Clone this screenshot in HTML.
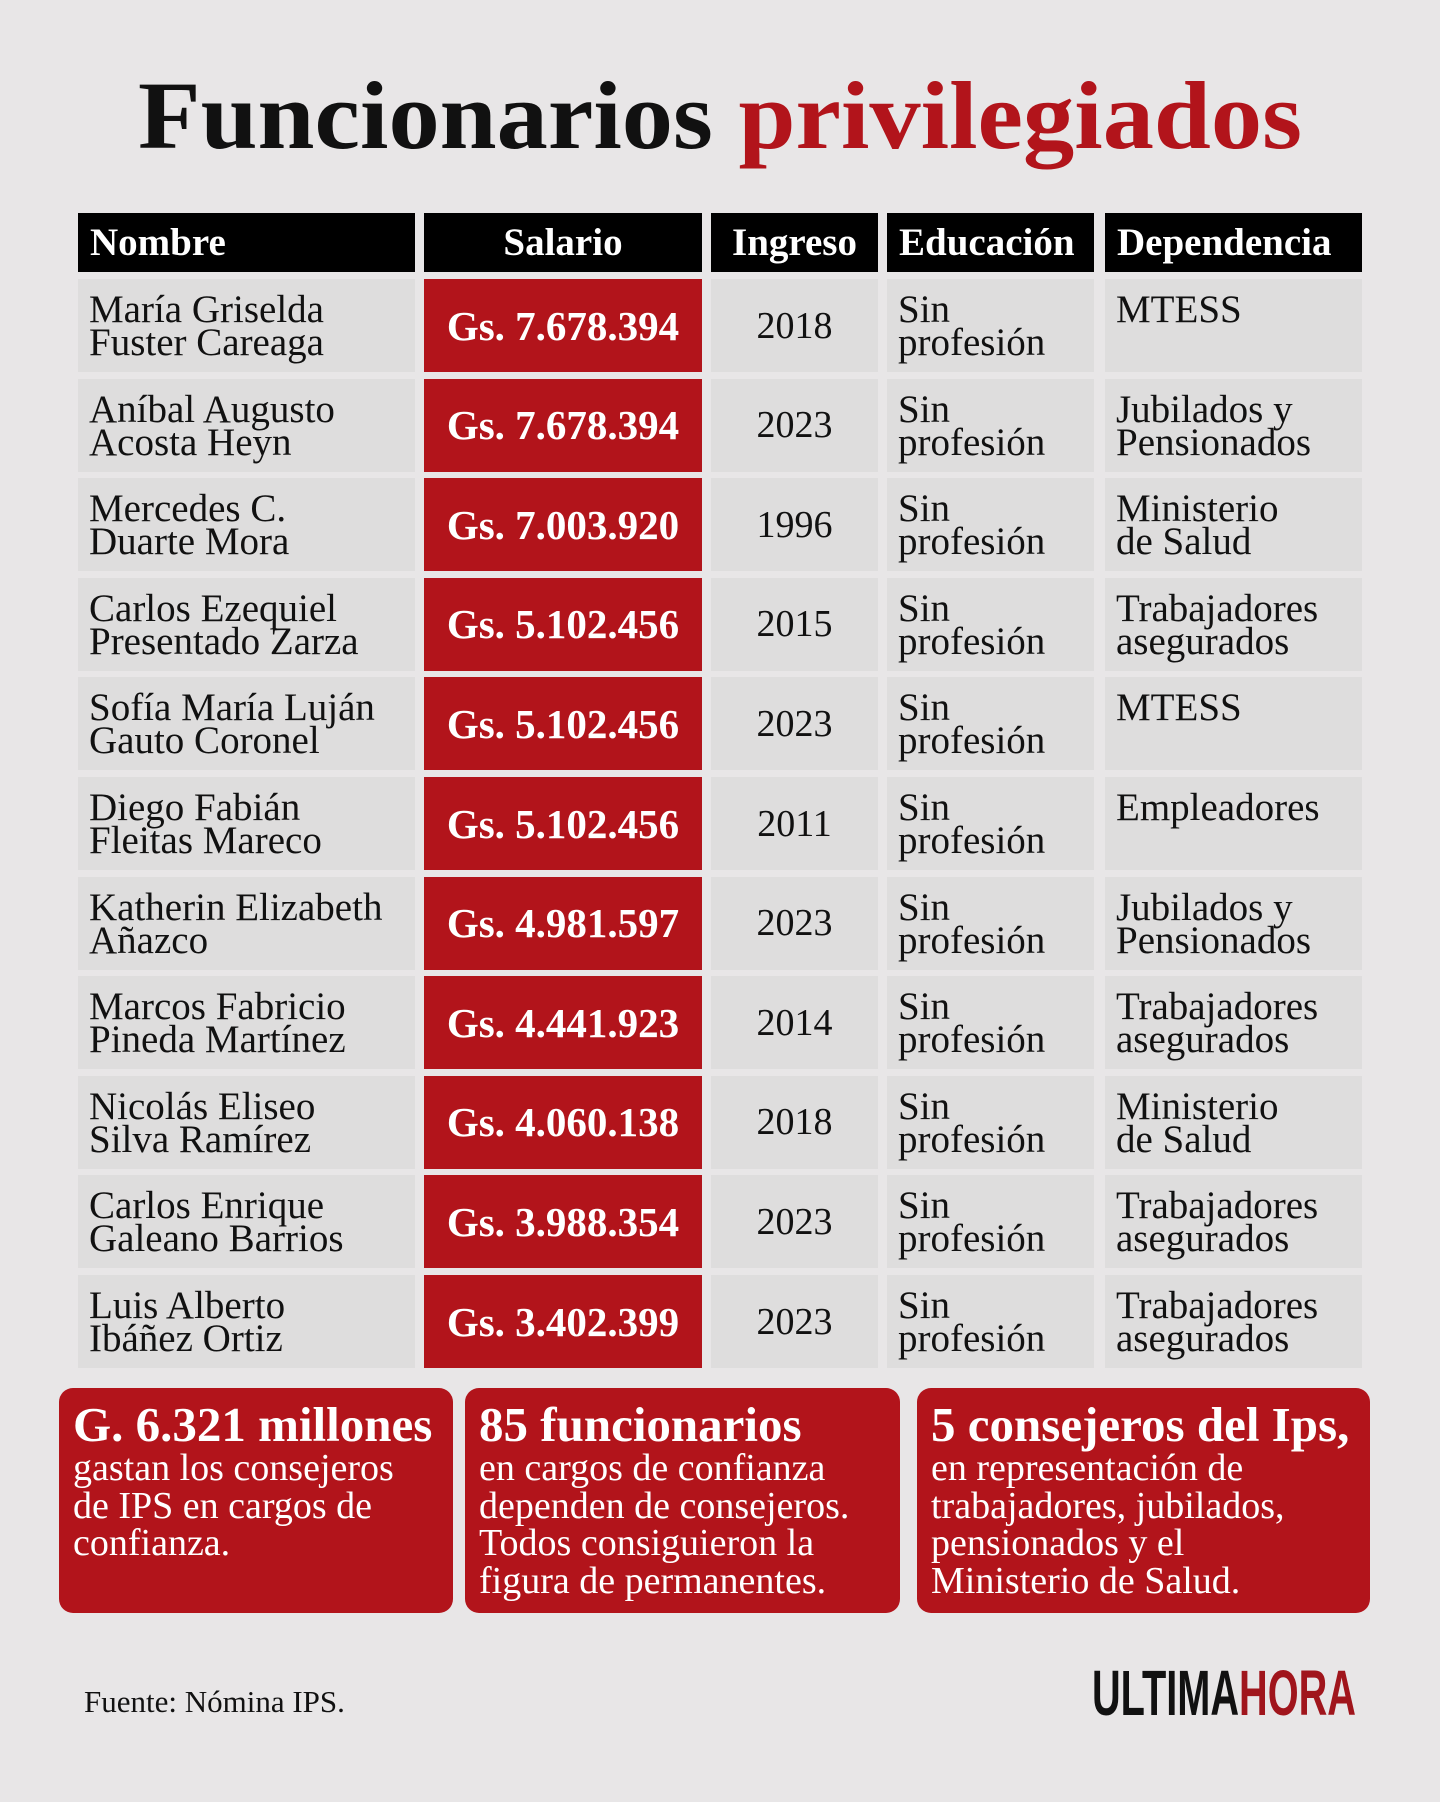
<!DOCTYPE html>
<html><head><meta charset="utf-8"><style>
*{margin:0;padding:0;box-sizing:border-box}
body{width:1440px;height:1802px;background:#e8e6e7;position:relative;overflow:hidden;font-family:"Liberation Serif",serif;color:#111}
.c{position:absolute;background:#dedddd;font-size:39px;line-height:33px;padding:14px 0 0 11px;white-space:nowrap}
.h{position:absolute;background:#000;color:#fff;font-weight:bold;font-size:39px;top:213px;height:59px;line-height:59px;padding-left:12px}
.s{position:absolute;background:#b2141b;color:#fff;font-weight:bold;font-size:41px;display:flex;align-items:center;justify-content:center}
.y{position:absolute;background:#dedddd;font-size:38px;display:flex;align-items:center;justify-content:center}
.b{position:absolute;top:1388px;height:225px;background:#b2141b;border-radius:14px;color:#fff;padding:12px 14px;font-size:38px;line-height:37.5px;white-space:nowrap}
.b b{font-size:49px;display:block;line-height:50px;margin-bottom:0}
</style></head><body>
<svg style="position:absolute;left:0;top:0" width="1440" height="190"><text x="138" y="148" font-family="Liberation Serif" font-weight="bold" font-size="96" textLength="1164" lengthAdjust="spacingAndGlyphs"><tspan fill="#111">Funcionarios </tspan><tspan fill="#b2141b">privilegiados</tspan></text></svg>
<div class="h" style="left:78px;width:337px">Nombre</div>
<div class="h" style="left:424px;width:278px;text-align:center;padding:0">Salario</div>
<div class="h" style="left:711px;width:167px;text-align:center;padding:0">Ingreso</div>
<div class="h" style="left:887px;width:207px">Educación</div>
<div class="h" style="left:1105px;width:257px">Dependencia</div>
<div id="rows"></div>
<script>
var d=[["María Griselda<br>Fuster Careaga","7.678.394","2018","MTESS"],
["Aníbal Augusto<br>Acosta Heyn","7.678.394","2023","Jubilados y<br>Pensionados"],
["Mercedes C.<br>Duarte Mora","7.003.920","1996","Ministerio<br>de Salud"],
["Carlos Ezequiel<br>Presentado Zarza","5.102.456","2015","Trabajadores<br>asegurados"],
["Sofía María Luján<br>Gauto Coronel","5.102.456","2023","MTESS"],
["Diego Fabián<br>Fleitas Mareco","5.102.456","2011","Empleadores"],
["Katherin Elizabeth<br>Añazco","4.981.597","2023","Jubilados y<br>Pensionados"],
["Marcos Fabricio<br>Pineda Martínez","4.441.923","2014","Trabajadores<br>asegurados"],
["Nicolás Eliseo<br>Silva Ramírez","4.060.138","2018","Ministerio<br>de Salud"],
["Carlos Enrique<br>Galeano Barrios","3.988.354","2023","Trabajadores<br>asegurados"],
["Luis Alberto<br>Ibáñez Ortiz","3.402.399","2023","Trabajadores<br>asegurados"]];
var h="";
d.forEach(function(r,i){var t=279+i*99.6,H=93;
h+='<div class="c" style="left:78px;width:337px;top:'+t+'px;height:'+H+'px">'+r[0]+'</div>';
h+='<div class="s" style="left:424px;width:278px;top:'+t+'px;height:'+H+'px">Gs. '+r[1]+'</div>';
h+='<div class="y" style="left:711px;width:167px;top:'+t+'px;height:'+H+'px">'+r[2]+'</div>';
h+='<div class="c" style="left:887px;width:207px;top:'+t+'px;height:'+H+'px">Sin<br>profesión</div>';
h+='<div class="c" style="left:1105px;width:257px;top:'+t+'px;height:'+H+'px">'+r[3]+'</div>';});
document.getElementById("rows").innerHTML=h;
</script>
<div class="b" style="left:59px;width:394px"><b>G. 6.321 millones</b>gastan los consejeros<br>de IPS en cargos de<br>confianza.</div>
<div class="b" style="left:465px;width:435px"><b>85 funcionarios</b>en cargos de confianza<br>dependen de consejeros.<br>Todos consiguieron la<br>figura de permanentes.</div>
<div class="b" style="left:917px;width:453px"><b>5 consejeros del Ips,</b>en representación de<br>trabajadores, jubilados,<br>pensionados y el<br>Ministerio de Salud.</div>
<div style="position:absolute;left:84px;top:1684px;font-size:31px">Fuente: Nómina IPS.</div>
<svg style="position:absolute;left:1090px;top:1664px" width="270" height="56"><text x="2" y="51" font-family="Liberation Sans Narrow,Liberation Sans,sans-serif" font-weight="bold" font-size="64" textLength="264" lengthAdjust="spacingAndGlyphs"><tspan fill="#111">ULTIMA</tspan><tspan fill="#a0151c">HORA</tspan></text></svg>
</body></html>
